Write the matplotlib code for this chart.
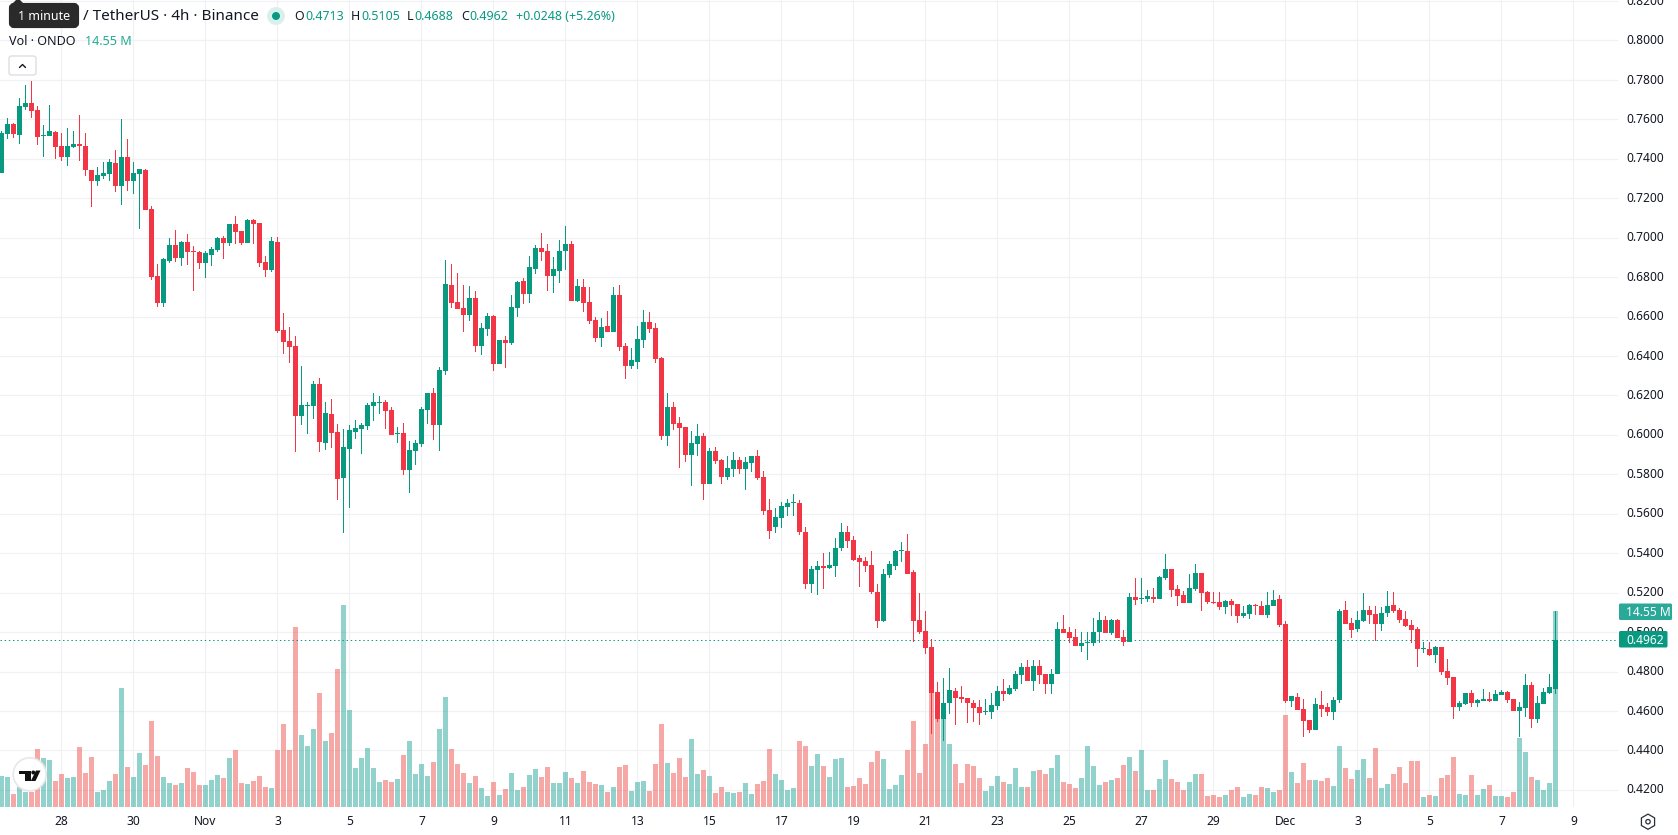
import numpy as np
import matplotlib
matplotlib.use("Agg")
import matplotlib.pyplot as plt
from matplotlib.patches import Circle, FancyBboxPatch, Polygon, RegularPolygon
from matplotlib.transforms import ScaledTranslation

plt.rcParams["font.family"] = ["Noto Sans", "DejaVu Sans"]

# ONDO / TetherUS, 4h candles: G = close above open, R = close below open
directions = (
    "GGRGGRRGGR" "RGGRRRGGGR" "GRGGRRRGGR" "GRRRGGGRGR" "RGRRRGRRRR"
    "GGGRGRRGGG" "GGGGRRGRGG" "GGRGGRRRGR" "GGRGRGGRGG" "RRGGGRGRRR"
    "GRGRRGGGRR" "RGRRRGGRGR" "RGGRGGRRRG" "GGGRRGGRGG" "GRRRRRRGGG"
    "GRRRRRRGGR" "RRRRGGGRGG" "GRGRRGGRRR" "GGGGRGRRGR" "GGRGGRRRGG"
    "RRRRGRRGGR" "RGGRRGRRRG" "RRGGRRGGRR" "GGRRRRRGRG" "RRRGGRGGRG"
    "GRRGGRGGGG"
)

highs = [
    .7543, .7609, .7584, .7710, .7776, .7797, .7670, .7574, .7675, .7543,
    .7533, .7558, .7543, .7624, .7533, .7345, .7356, .7386, .7401, .7447,
    .7604, .7503, .7386, .7350, .7350, .7163, .6869, .6899, .7001, .7041,
    .6985, .7021, .6960, .6935, .6935, .6955, .7006, .7011, .7067, .7112,
    .7036, .7097, .7097, .7077, .6909, .7006, .7002, .6618, .6547, .6501,
    .6349, .6167, .6273, .6289, .6167, .6182, .6055, .6030, .6050, .6076,
    .6060, .6162, .6212, .6197, .6177, .6141, .6040, .6060, .5969, .5974,
    .6141, .6212, .6238, .6344, .6887, .6866, .6821, .6760, .6755, .6730,
    .6567, .6618, .6608, .6481, .6501, .6709, .6780, .6796, .6907, .6963,
    .7024, .6968, .6902, .6988, .7059, .6983, .6790, .6790, .6750, .6598,
    .6593, .6628, .6750, .6760, .6466, .6441, .6552, .6633, .6623, .6567,
    .6395, .6212, .6167, .6091, .6040, .6020, .6055, .6010, .5934, .5939,
    .5878, .5893, .5913, .5888, .5888, .5893, .5923, .5817, .5675, .5629,
    .5660, .5675, .5700, .5670, .5535, .5333, .5363, .5399, .5404, .5475,
    .5551, .5536, .5485, .5389, .5379, .5409, .5242, .5318, .5363, .5414,
    .5455, .5500, .5313, .5196, .5105, .4963, .4745, .4765, .4816, .4714,
    .4725, .4664, .4654, .4654, .4659, .4689, .4725, .4760, .4730, .4801,
    .4841, .4861, .4861, .4861, .4790, .4811, .5049, .5085, .5024, .5014,
    .4998, .5003, .5074, .5104, .5084, .5064, .5064, .5013, .5196, .5272,
    .5272, .5211, .5226, .5287, .5398, .5322, .5241, .5206, .5297, .5343,
    .5302, .5206, .5201, .5201, .5165, .5170, .5140, .5130, .5140, .5140,
    .5160, .5201, .5211, .5190, .5054, .4678, .4689, .4663, .4552, .4668,
    .4699, .4638, .4673, .5119, .5160, .5074, .5107, .5198, .5132, .5132,
    .5127, .5208, .5203, .5122, .5107, .5061, .5026, .4950, .4950, .4930,
    .4925, .4864, .4772, .4651, .4691, .4707, .4661, .4712, .4696, .4707,
    .4707, .4701, .4661, .4646, .4788, .4747, .4676, .4717, .4788, .5105,
]

body_tops = [
    .7533, .7579, .7579, .7670, .7685, .7685, .7650, .7523, .7543, .7538,
    .7467, .7467, .7477, .7477, .7467, .7345, .7320, .7330, .7386, .7381,
    .7411, .7411, .7330, .7350, .7345, .7148, .6808, .6894, .6965, .6965,
    .6980, .6980, .6935, .6930, .6920, .6945, .7001, .7001, .7067, .7067,
    .7036, .7092, .7092, .7077, .6879, .6985, .6978, .6532, .6476, .6451,
    .6152, .6152, .6258, .6258, .6111, .6106, .6015, .5939, .6025, .6035,
    .6050, .6152, .6167, .6167, .6167, .6126, .6010, .6010, .5923, .5959,
    .6131, .6212, .6212, .6329, .6765, .6760, .6674, .6643, .6694, .6694,
    .6542, .6603, .6603, .6481, .6481, .6648, .6775, .6780, .6851, .6948,
    .6948, .6932, .6841, .6932, .6968, .6968, .6755, .6750, .6674, .6583,
    .6547, .6552, .6709, .6709, .6451, .6380, .6486, .6572, .6572, .6542,
    .6390, .6141, .6141, .6060, .6040, .5959, .5994, .5994, .5918, .5918,
    .5873, .5832, .5873, .5873, .5863, .5893, .5893, .5787, .5619, .5583,
    .5639, .5655, .5660, .5655, .5510, .5318, .5333, .5333, .5338, .5429,
    .5510, .5510, .5465, .5374, .5363, .5338, .5201, .5297, .5343, .5409,
    .5414, .5409, .5303, .5059, .5008, .4922, .4694, .4643, .4704, .4699,
    .4669, .4664, .4643, .4618, .4598, .4628, .4699, .4699, .4714, .4785,
    .4821, .4821, .4826, .4826, .4785, .4790, .5014, .5014, .4998, .4973,
    .4947, .4952, .5003, .5059, .5059, .5059, .5059, .4977, .5180, .5180,
    .5175, .5185, .5180, .5277, .5322, .5322, .5221, .5190, .5226, .5302,
    .5302, .5201, .5155, .5155, .5160, .5160, .5140, .5099, .5135, .5135,
    .5130, .5135, .5165, .5170, .5043, .4678, .4673, .4612, .4552, .4633,
    .4628, .4618, .4658, .5109, .5114, .5048, .5061, .5112, .5112, .5092,
    .5097, .5132, .5137, .5112, .5066, .5036, .5016, .4919, .4914, .4925,
    .4925, .4803, .4772, .4641, .4691, .4691, .4656, .4661, .4661, .4686,
    .4696, .4696, .4661, .4620, .4732, .4732, .4641, .4696, .4722, .4962,
]

body_bottoms = [
    .7330, .7528, .7528, .7523, .7665, .7645, .7513, .7518, .7518, .7462,
    .7411, .7411, .7460, .7467, .7345, .7290, .7290, .7315, .7325, .7264,
    .7264, .7285, .7285, .7325, .7143, .6803, .6671, .6671, .6884, .6899,
    .6899, .6930, .6930, .6874, .6874, .6914, .6940, .6975, .6975, .7031,
    .6975, .6975, .7067, .6874, .6838, .6838, .6527, .6471, .6446, .6096,
    .6096, .6147, .6147, .5964, .5959, .6010, .5776, .5781, .5929, .6015,
    .6030, .6045, .6147, .6162, .6121, .6000, .6005, .5822, .5822, .5918,
    .5954, .6126, .6050, .6050, .6324, .6669, .6638, .6608, .6608, .6451,
    .6451, .6537, .6359, .6359, .6466, .6466, .6643, .6714, .6714, .6841,
    .6927, .6806, .6806, .6831, .6932, .6679, .6679, .6669, .6578, .6491,
    .6491, .6522, .6522, .6446, .6349, .6349, .6370, .6481, .6537, .6385,
    .5994, .5994, .6055, .6035, .5898, .5898, .5954, .5751, .5751, .5868,
    .5787, .5787, .5827, .5827, .5827, .5858, .5781, .5614, .5515, .5535,
    .5579, .5634, .5655, .5510, .5245, .5242, .5313, .5323, .5323, .5333,
    .5424, .5460, .5368, .5358, .5333, .5201, .5054, .5054, .5292, .5333,
    .5409, .5297, .5054, .5003, .4917, .4689, .4557, .4557, .4638, .4664,
    .4659, .4638, .4613, .4588, .4593, .4593, .4623, .4684, .4684, .4709,
    .4780, .4750, .4750, .4780, .4735, .4735, .4785, .4993, .4968, .4932,
    .4932, .4947, .4947, .5003, .4993, .4993, .4972, .4952, .4952, .5165,
    .5170, .5170, .5170, .5170, .5272, .5216, .5185, .5150, .5150, .5221,
    .5196, .5155, .5150, .5125, .5125, .5135, .5084, .5084, .5094, .5130,
    .5089, .5089, .5130, .5038, .4653, .4653, .4607, .4547, .4506, .4506,
    .4612, .4597, .4597, .4658, .5043, .5013, .5016, .5056, .5087, .5041,
    .5041, .5097, .5107, .5061, .5031, .5011, .4914, .4914, .4884, .4884,
    .4798, .4767, .4620, .4620, .4636, .4641, .4641, .4651, .4651, .4651,
    .4681, .4656, .4600, .4600, .4615, .4559, .4559, .4636, .4691, .4713,
]

lows = [
    .7330, .7503, .7508, .7477, .7650, .7609, .7472, .7411, .7518, .7401,
    .7391, .7366, .7457, .7391, .7315, .7158, .7264, .7300, .7290, .7234,
    .7168, .7239, .7224, .7046, .7143, .6783, .6651, .6651, .6874, .6879,
    .6859, .6864, .6732, .6843, .6798, .6854, .6925, .6894, .6960, .6970,
    .6965, .6975, .6970, .6849, .6803, .6826, .6517, .6410, .6365, .5913,
    .6050, .6005, .6081, .5913, .5923, .5934, .5670, .5503, .5629, .5979,
    .5903, .6025, .6070, .6106, .6030, .6000, .5959, .5797, .5705, .5847,
    .5939, .6055, .5974, .5918, .6304, .6643, .6638, .6522, .6578, .6420,
    .6405, .6501, .6324, .6359, .6339, .6456, .6598, .6664, .6669, .6816,
    .6882, .6730, .6719, .6770, .6836, .6679, .6674, .6623, .6562, .6471,
    .6446, .6522, .6522, .6425, .6283, .6334, .6334, .6441, .6517, .6365,
    .5974, .5944, .6025, .5832, .5863, .5741, .5893, .5670, .5751, .5852,
    .5751, .5771, .5787, .5802, .5721, .5812, .5771, .5594, .5470, .5500,
    .5530, .5589, .5589, .5490, .5220, .5196, .5186, .5221, .5318, .5277,
    .5409, .5424, .5363, .5227, .5303, .5191, .5019, .5049, .5272, .5313,
    .5353, .5297, .4948, .4988, .4887, .4481, .4542, .4446, .4583, .4527,
    .4638, .4537, .4542, .4527, .4578, .4557, .4603, .4649, .4679, .4699,
    .4735, .4750, .4699, .4735, .4684, .4684, .4785, .4993, .4943, .4932,
    .4901, .4856, .4927, .4947, .4993, .4983, .4972, .4927, .4952, .5135,
    .5145, .5155, .5150, .5170, .5266, .5180, .5130, .5150, .5150, .5206,
    .5109, .5145, .5140, .5114, .5094, .5084, .5048, .5074, .5064, .5089,
    .5089, .5074, .5130, .5028, .4643, .4618, .4607, .4470, .4486, .4506,
    .4567, .4577, .4552, .4638, .5043, .4972, .5001, .5051, .5041, .4955,
    .5006, .5077, .5097, .5046, .5026, .4945, .4823, .4894, .4879, .4843,
    .4783, .4732, .4559, .4600, .4630, .4620, .4620, .4651, .4646, .4651,
    .4681, .4641, .4600, .4468, .4570, .4514, .4539, .4636, .4686, .4688,
]

# Traded volume per candle, millions of ONDO
volumes = [
    2.30, 2.22, .96, 1.51, 1.14, 1.14, 4.30, 3.63, 3.48, 1.93,
    2.45, 2.15, 2.22, 4.45, 2.52, 3.71, 1.11, 1.26, 1.93, 2.45,
    8.82, 2.96, 2.22, 4.00, 3.11, 6.37, 3.78, 2.22, 1.78, 1.63,
    1.78, 2.89, 2.59, 1.63, 1.63, 2.00, 2.37, 2.15, 3.63, 4.22,
    1.78, 1.70, 1.93, 2.30, 1.48, 1.41, 4.22, 6.15, 4.22, 13.34,
    5.34, 4.52, 5.78, 8.45, 4.89, 5.48, 10.23, 14.99, 7.19, 2.89,
    3.63, 4.37, 2.89, 1.85, 2.00, 1.85, 2.07, 3.85, 4.89, 2.45,
    3.19, 2.30, 3.33, 5.78, 8.15, 4.30, 3.19, 2.52, 1.78, 2.30,
    1.41, .82, 1.85, .89, 1.33, 2.52, 1.26, 1.48, 2.37, 2.82,
    2.22, 2.96, 1.78, 1.78, 2.59, 2.15, 1.78, 2.67, 1.85, 1.70,
    1.63, 1.11, 1.48, 2.96, 3.11, 1.19, 1.85, 1.93, 1.19, 3.19,
    6.15, 3.26, 2.52, 3.63, 2.22, 5.04, 2.45, 2.74, 2.30, 1.04,
    1.48, 1.11, 1.04, 1.11, 1.78, .96, 1.70, 1.93, 4.30, 2.45,
    2.00, 1.26, 1.41, 4.89, 4.52, 3.04, 3.93, 3.04, 2.22, 3.56,
    3.63, 1.48, 1.56, 2.15, 1.70, 3.33, 4.15, 3.56, 1.33, 1.63,
    2.37, 4.22, 6.37, 2.52, 4.67, 8.89, 6.79, 6.67, 4.67, 3.19,
    1.78, 3.19, 3.04, 2.15, 1.19, 1.56, 2.30, 1.85, 1.70, 2.89,
    1.48, 1.48, 2.67, 2.74, 2.45, 2.89, 3.85, 1.85, 1.70, 1.41,
    2.15, 4.52, 3.04, 1.63, 1.85, 2.00, 2.15, 3.11, 3.71, 2.67,
    4.22, 1.26, 1.26, 2.07, 3.48, 2.07, 1.85, 1.26, 1.85, 2.45,
    2.45, .82, .89, .74, .89, 1.26, 1.48, .74, .96, .89,
    1.48, 1.41, 1.11, 1.26, 6.82, 2.59, 1.78, 3.26, 2.00, 2.00,
    1.93, 2.15, 1.56, 4.52, 2.89, 2.07, 2.74, 3.56, 2.15, 4.37,
    1.41, 1.70, 2.45, 2.96, 1.78, 3.41, 3.41, .74, .89, .82,
    2.15, 2.37, 3.71, .96, .89, 2.37, .89, 1.33, 1.63, .82,
    .82, .74, 1.11, 5.11, 4.08, 2.22, 2.00, 1.26, 1.78, 14.55,
]

date_positions = [10, 22, 34, 46, 58, 70, 82, 94, 106, 118, 130, 142, 154, 166,
                  178, 190, 202, 214, 226, 238, 250, 262]
date_labels = ["28", "30", "Nov", "3", "5", "7", "9", "11", "13", "15", "17", "19",
               "21", "23", "25", "27", "29", "Dec", "3", "5", "7", "9"]
price_ticks = [.42, .44, .46, .48, .50, .52, .54, .56, .58, .60, .62, .64, .66,
               .68, .70, .72, .74, .76, .78, .80, .82]
last_price = 0.4962
last_volume_label = "14.55 M"

UP = "#089981"
DOWN = "#F23645"
VOL_UP = "#26a69a"
VOL_DOWN = "#ef5350"
GRID = "#f0f1f4"
TEXT = "#131722"

W, H = 1678, 835
PANE_W, PANE_B = 1618, 807


def px(size):
    """Font size given in pixels, as points at 100 dpi."""
    return size * 0.72


up = np.array([d == "G" for d in directions])
x = np.arange(len(directions))
highs, lows = np.array(highs), np.array(lows)
tops, bottoms = np.array(body_tops), np.array(body_bottoms)
vols = np.array(volumes)

fig = plt.figure(figsize=(W / 100, H / 100), dpi=100, facecolor="white")
rect = [0, (H - PANE_B) / H, PANE_W / W, PANE_B / H]
xlim = (-0.25, -0.25 + PANE_W / 6)
price_lim = (0.80 - 766.5 / 1972, 0.80 + 40.5 / 1972)

# Bottom layer: grid and both axes
ax = fig.add_axes(rect)
ax.set_xlim(xlim)
ax.set_ylim(price_lim)
for s in ax.spines.values():
    s.set_visible(False)
ax.yaxis.tick_right()
ax.set_yticks(price_ticks)
ax.set_yticklabels([f"{p:.4f}" for p in price_ticks], fontsize=px(12), color=TEXT)
ax.set_xticks(date_positions)
ax.set_xticklabels(date_labels, fontsize=px(12), color=TEXT)
for lab in ax.get_xticklabels():
    if lab.get_text() in ("Nov", "Dec"):
        lab.set_fontweight("bold")
ax.tick_params(axis="both", length=0)
ax.tick_params(axis="y", pad=6.2)
ax.tick_params(axis="x", pad=5.5)
ax.grid(True, color=GRID, lw=0.9)
ax.set_axisbelow(True)

# Nudge the price labels up so they sit centred on their grid lines
label_shift = ScaledTranslation(0, 1.4 / 100, fig.dpi_scale_trans)
for tick in ax.yaxis.get_major_ticks():
    tick.label2.set_transform(tick.label2.get_transform() + label_shift)

# Volume bars share the lower part of the pane
ax_vol = fig.add_axes(rect, frameon=False)
ax_vol.set_xlim(xlim)
ax_vol.set_ylim(0, PANE_B * 14.55 / 196.3)
ax_vol.axis("off")
ax_vol.bar(x[up], vols[up], width=5 / 6, color=VOL_UP, alpha=0.5, linewidth=0)
ax_vol.bar(x[~up], vols[~up], width=5 / 6, color=VOL_DOWN, alpha=0.5, linewidth=0)

# Candles on top, with the dotted last-price line beneath them
ax_c = fig.add_axes(rect, frameon=False)
ax_c.set_xlim(xlim)
ax_c.set_ylim(price_lim)
ax_c.axis("off")
ax_c.axhline(last_price, color=UP, lw=0.72, dashes=(1.39, 2.78), zorder=1)
for mask, colour in ((up, UP), (~up, DOWN)):
    ax_c.bar(x[mask], highs[mask] - lows[mask], bottom=lows[mask], width=1 / 6,
             color=colour, linewidth=0, zorder=2)
    ax_c.bar(x[mask], tops[mask] - bottoms[mask], bottom=bottoms[mask], width=5 / 6,
             color=colour, linewidth=0, zorder=3)

# Overlay in pixel units for the header, price tags and logo
ov = fig.add_axes([0, 0, 1, 1], frameon=False)
ov.set_xlim(0, W)
ov.set_ylim(H, 0)
ov.axis("off")

ov.add_patch(FancyBboxPatch((11, 5), 66, 21, boxstyle="round,pad=0,rounding_size=3",
                            fc="#2a2a2a", ec="#2a2a2a", lw=3))
ov.add_patch(Polygon([(12, 4), (16, 0), (20, 0), (24, 4)], fc="#2a2a2a", ec="none"))
ov.text(44, 16.5, "1 minute", color="white", fontsize=px(12.5), ha="center", va="center")
ov.text(83, 17, "/ TetherUS · 4h · Binance", color=TEXT, fontsize=px(15.3),
        ha="left", va="center")
ov.add_patch(Circle((276, 16), 9, fc="#daf0ec", ec="none"))
ov.add_patch(Circle((276, 16), 4, fc=UP, ec="none"))

ohlc_parts = [(294, "O", TEXT), (305, "0.4713", UP), (351, "H", TEXT), (361, "0.5105", UP),
              (407, "L", TEXT), (414.5, "0.4688", UP), (461, "C", TEXT), (469.5, "0.4962", UP),
              (515.5, "+0.0248 (+5.26%)", UP)]
for tx, label, colour in ohlc_parts:
    ov.text(tx, 16.5, label, color=colour, fontsize=px(12.4), ha="left", va="center")
ov.text(9, 41.5, "Vol · ONDO", color=TEXT, fontsize=px(12.6), ha="left", va="center")
ov.text(85, 41.5, "14.55 M", color="#22ab94", fontsize=px(12.6), ha="left", va="center")

ov.add_patch(FancyBboxPatch((9, 56), 27, 19, boxstyle="round,pad=0,rounding_size=2.5",
                            fc="white", ec="#d9dbe0", lw=0.9))
ov.plot([19.5, 22.5, 25.5], [67.5, 64.5, 67.5], color=TEXT, lw=1.0, solid_capstyle="round")

# Price tags at the right edge
ov.add_patch(FancyBboxPatch((1619, 603.5), 53, 16.5, boxstyle="round,pad=0,rounding_size=1.5",
                            fc="#2aa898", ec="none"))
ov.text(1626.5, 612, last_volume_label, color="white", fontsize=px(12), ha="left", va="center")
ov.add_patch(FancyBboxPatch((1619, 631), 48.5, 16.5, boxstyle="round,pad=0,rounding_size=1.5",
                            fc=UP, ec="none"))
ov.text(1626.5, 640, f"{last_price:.4f}", color="white", fontsize=px(12), ha="left", va="center")

# Settings hexagon in the axis corner
ov.add_patch(RegularPolygon((1648, 821.7), 6, radius=7.6, fc="white", ec="#2a2e39", lw=0.9))
ov.add_patch(Circle((1648, 821.7), 2.2, fc="white", ec="#2a2e39", lw=0.9))

# Round watermark logo
ov.add_patch(Circle((29.7, 774.3), 16.5, fc="white", ec="#e6e7ea", lw=1.2))
ov.add_patch(Polygon([(19, 770.5), (30.5, 770.5), (30.5, 781), (24.5, 781), (24.5, 774.2), (19, 774.2)],
                     fc="#111111", ec="none"))
ov.add_patch(Circle((33.3, 772.5), 2, fc="#111111", ec="none"))
ov.add_patch(Polygon([(36, 770.5), (40.5, 770.5), (35.5, 781), (30.8, 781)], fc="#111111", ec="none"))

fig.savefig("out.png", dpi=100, facecolor="white")
